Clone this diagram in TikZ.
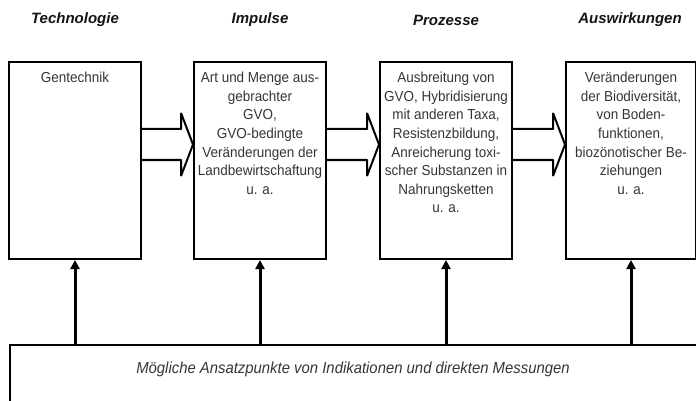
\documentclass[tikz,border=0pt]{standalone}
\usepackage{fontspec}
\setmainfont{Liberation Sans}
\newfontfamily\narrowsans[FakeStretch=0.93]{Liberation Sans}
\usetikzlibrary{arrows.meta,calc}
\definecolor{bodytext}{HTML}{353535}
\definecolor{headtext}{HTML}{151515}
\begin{document}
\begin{tikzpicture}[x=1pt,y=-1pt,
  stagebox/.style={draw=black, line width=2pt, minimum width=132pt, minimum height=197pt, inner sep=0pt},
  boxtext/.style={anchor=north, inner sep=0pt, align=center, text=bodytext,
    font=\narrowsans\fontsize{14.5}{18.6}\selectfont},
  headline/.style={inner sep=0pt, text=headtext, font=\fontsize{15}{18}\selectfont\bfseries\itshape},
  hollowarrow/.style={draw=black, line width=2pt, line join=bevel},
  measurearrow/.style={draw=black, line width=3pt, -{Triangle[length=9pt,width=9pt]}}]
\useasboundingbox (0,0) rectangle (696,401);

% column headings
\node[headline] (h1) at (75,20) {Technologie};
\node[headline] (h2) at (260,20) {Impulse};
\node[headline] (h3) at (446,20) {Prozesse};
\node[headline] (h4) at (630,20) {Auswirkungen};

% the four stages
\node[stagebox] (b1) at (75,160.5) {};
\node[stagebox] (b2) at (260,160.5) {};
\node[stagebox] (b3) at (446,160.5) {};
\node[stagebox, minimum width=130pt] (b4) at (631,160.5) {};

\node[boxtext] (t1) at ($(b1.north)+(0,11)$) {Gentechnik};
\node[boxtext] (t2) at ($(b2.north)+(0,11)$) {Art und Menge aus-\\gebrachter\\GVO,\\GVO-bedingte\\Veränderungen der\\Landbewirtschaftung\\u. a.};
\node[boxtext] (t3) at ($(b3.north)+(0,11)$) {Ausbreitung von\\GVO, Hybridisierung\\mit anderen Taxa,\\Resistenzbildung,\\Anreicherung toxi-\\scher Substanzen in\\Nahrungsketten\\u. a.};
\node[boxtext] (t4) at ($(b4.north)+(0,11)$) {Veränderungen\\der Biodiversität,\\von Boden-\\funktionen,\\biozönotischer Be-\\ziehungen\\u. a.};

% hollow block arrows between the stages
\foreach \src/\dst in {b1/b2, b2/b3, b3/b4}{
  \draw[hollowarrow] (\src.east |- 0,129) -- ($(\dst.west |- 0,129)+(-12,0)$)
    -- ($(\dst.west |- 0,113)+(-12,0)$) -- (\dst.west |- 0,144.5)
    -- ($(\dst.west |- 0,176)+(-12,0)$) -- ($(\dst.west |- 0,160)+(-12,0)$)
    -- (\src.east |- 0,160);
}

% measurement base
\node[draw=black, line width=2pt, anchor=north west, minimum width=690pt, minimum height=80pt, inner sep=0pt] (base) at (9,344) {};
\node[inner sep=0pt, text=bodytext, font=\narrowsans\fontsize{16}{19}\selectfont\itshape] (bt) at (353,369) {Mögliche Ansatzpunkte von Indikationen und direkten Messungen};

% arrows from the base to each stage
\foreach \b in {b1,b2,b3,b4}{
  \draw[measurearrow] (base.north -| \b.south) -- (\b.south);
}
\end{tikzpicture}
\end{document}
